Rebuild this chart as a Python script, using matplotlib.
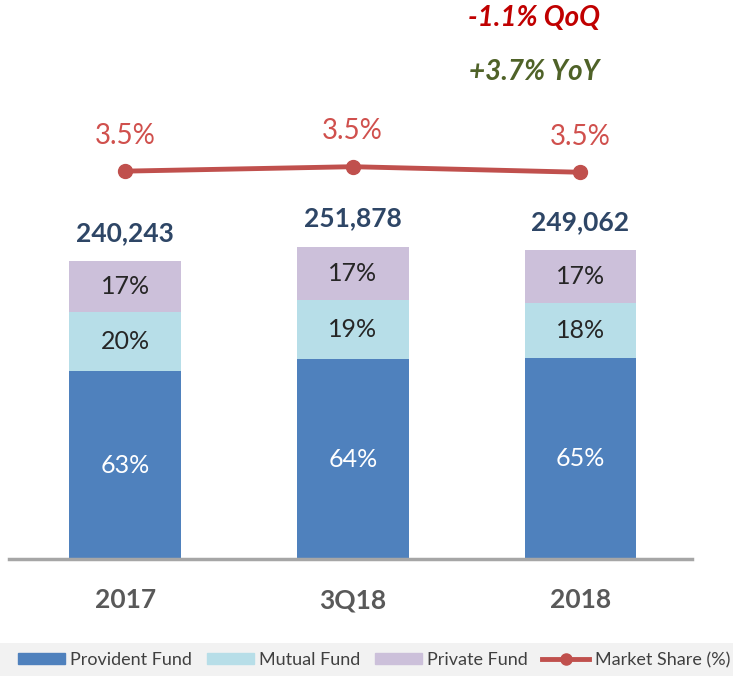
import matplotlib.pyplot as plt
from matplotlib.patches import Rectangle
from matplotlib.lines import Line2D

# data
periodos = ["2017", "3Q18", "2018"]
totais = [240243, 251878, 249062]
provident = [63, 64, 65]
mutual = [20, 19, 18]
private = [17, 17, 17]
market_share = [3.49, 3.53, 3.48]
market_share_lbl = ["3.5%", "3.5%", "3.5%"]
qoq_txt = "-1.1% QoQ"
yoy_txt = "+3.7% YoY"

c_prov = "#4f81bd"
c_mut = "#b7dee8"
c_priv = "#ccc0da"
c_line = "#c0504d"

plt.rcParams['font.family'] = ['Lato', 'DejaVu Sans']

fig = plt.figure(figsize=(7.33, 6.76), dpi=100)
# gray strip behind the legend
fig.patches.append(Rectangle((0, 0), 1, 33 / 676, transform=fig.transFigure,
                             facecolor="#f2f2f2", edgecolor="none", zorder=0))

ax = fig.add_axes([9 / 733, 117 / 676, 683 / 733, 559 / 676])
x = list(range(len(periodos)))
largura = 0.49

# segments in absolute values
seg_prov = [t * p / 100 for t, p in zip(totais, provident)]
seg_mut = [t * m / 100 for t, m in zip(totais, mutual)]
seg_priv = [t * p / 100 for t, p in zip(totais, private)]
base_priv = [a + b for a, b in zip(seg_prov, seg_mut)]

ax.bar(x, seg_prov, width=largura, color=c_prov, zorder=2)
ax.bar(x, seg_mut, width=largura, bottom=seg_prov, color=c_mut, zorder=2)
ax.bar(x, seg_priv, width=largura, bottom=base_priv, color=c_priv, zorder=2)

for i in x:
    ax.text(i, seg_prov[i] / 2, str(provident[i]) + "%", ha="center", va="center",
            fontsize=18, color="white")
    ax.text(i, seg_prov[i] + seg_mut[i] / 2, str(mutual[i]) + "%", ha="center",
            va="center", fontsize=18, color="#262626")
    ax.text(i, base_priv[i] + seg_priv[i] / 2, str(private[i]) + "%", ha="center",
            va="center", fontsize=18, color="#262626")
    ax.text(i, totais[i] + 13000, "{:,}".format(totais[i]), ha="center", va="bottom",
            fontsize=19, fontweight="bold", color="#2e4666")

ax.set_xlim(-0.51, 2.49)
ax.set_ylim(0, 450700)
ax.set_xticks(x)
ax.set_xticklabels(periodos, fontsize=19, fontweight="bold", color="#595959")
ax.tick_params(axis="x", length=0, pad=21)
ax.set_yticks([])
for s in ["top", "right", "left"]:
    ax.spines[s].set_visible(False)
ax.spines["bottom"].set_color("#a6a6a6")
ax.spines["bottom"].set_linewidth(2.5)
ax.patch.set_alpha(0)

# market share line on a second axis
ax2 = ax.twinx()
ax2.plot(x, market_share, color=c_line, linewidth=3.5, marker="o", markersize=10, zorder=3)
for i in x:
    ax2.text(i, market_share[i] + 0.2, market_share_lbl[i], ha="center", va="bottom",
             fontsize=20, color="#d0504d")
ax2.set_ylim(0, 5.03)
ax2.set_yticks([])
for s in ["top", "right", "left", "bottom"]:
    ax2.spines[s].set_visible(False)

fig.text(534 / 733, 1 - 18 / 676, qoq_txt, ha="center", va="center", fontsize=20,
         fontweight="bold", fontstyle="italic", color="#c00000")
fig.text(534 / 733, 1 - 72 / 676, yoy_txt, ha="center", va="center", fontsize=20,
         fontweight="bold", fontstyle="italic", color="#4f6228")

handles = [Rectangle((0, 0), 1, 1, color=c_prov),
           Rectangle((0, 0), 1, 1, color=c_mut),
           Rectangle((0, 0), 1, 1, color=c_priv),
           Line2D([], [], color=c_line, linewidth=3.5, marker="o", markersize=8)]
nomes = ["Provident Fund", "Mutual Fund", "Private Fund", "Market Share (%)"]
fig.legend(handles, nomes, loc="center right", bbox_to_anchor=(0.996, 16 / 676), ncol=4,
           frameon=False, fontsize=13, labelcolor="#404040", handlelength=2.6,
           handleheight=0.6, columnspacing=0.8, handletextpad=0.3,
           borderaxespad=0, borderpad=0)

fig.savefig("out.png", dpi=100)
